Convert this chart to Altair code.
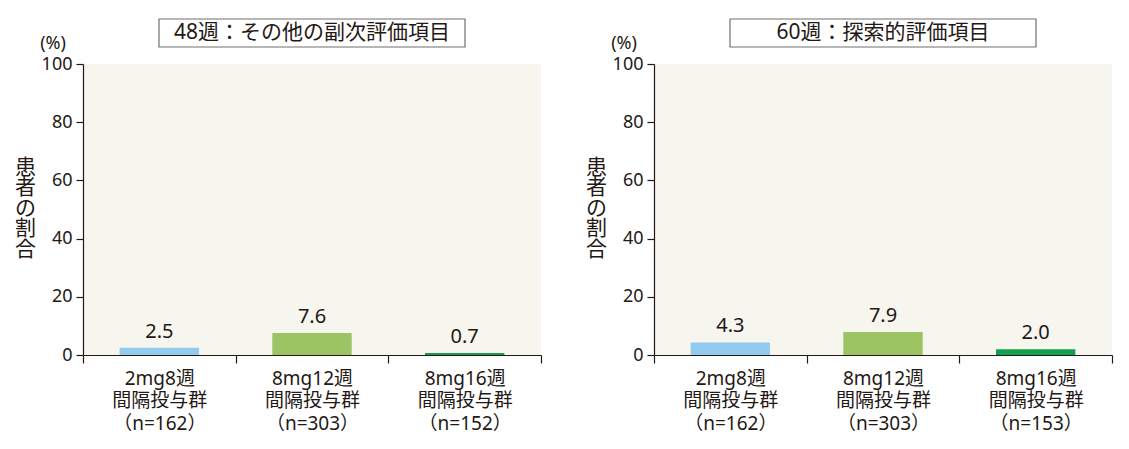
import altair as alt
import pandas as pd

# Data
arms = ["2mg8週", "8mg12週", "8mg16週"]
cats_48 = ["2mg8週|間隔投与群|（n=162）", "8mg12週|間隔投与群|（n=303）", "8mg16週|間隔投与群|（n=152）"]
cats_60 = ["2mg8週|間隔投与群|（n=162）", "8mg12週|間隔投与群|（n=303）", "8mg16週|間隔投与群|（n=153）"]
values_48 = [2.5, 7.6, 0.7]
values_60 = [4.3, 7.9, 2.0]
titles = ["48週：その他の副次評価項目", "60週：探索的評価項目"]
bar_colors = ["#92cbee", "#9dc462", "#12a04e"]
y_ticks = [0, 20, 40, 60, 80, 100]

FONT = "Noto Sans, Noto Sans CJK JP"
CJK = "Noto Sans CJK JP"
INK = "#231815"
W, H = 458, 291


def panel(title, cats, vals):
    df = pd.DataFrame({"cat": cats, "arm": arms, "value": vals})
    x = alt.X(
        "cat:N", sort=cats,
        scale=alt.Scale(paddingInner=0, paddingOuter=0),
        axis=alt.Axis(
            title=None, labelAngle=0, labelExpr="split(datum.label, '|')",
            tickBand="extent", tickSize=8, labelPadding=6,
            labelFontSize=19, labelLineHeight=22.5, labelBaseline="top",
        ),
    )
    y = alt.Y(
        "value:Q",
        scale=alt.Scale(domain=[0, 100]),
        axis=alt.Axis(
            values=y_ticks, grid=False, tickSize=7, labelPadding=4, labelFontSize=18,
            title=["患", "者", "の", "割", "合"], titleAngle=0, titleFont=CJK,
            titleX=-58, titleY=103, titleAlign="center", titleBaseline="middle",
            titleFontSize=21, titleFontWeight="normal", titleLineHeight=20.5,
        ),
    )
    bars = alt.Chart(df).mark_bar(width=alt.RelativeBandSize(0.52)).encode(
        x=x, y=y,
        color=alt.Color("arm:N", scale=alt.Scale(domain=arms, range=bar_colors), legend=None),
    )
    text = alt.Chart(df).mark_text(dy=-10, baseline="alphabetic", fontSize=20, color=INK, font=FONT).encode(
        x=x, y=y, text=alt.Text("value:Q", format=".1f")
    )
    tdf = pd.DataFrame({"t": [title]})
    box = alt.Chart(tdf).mark_rect(fill="white", stroke="#707070", strokeWidth=1.2).encode(
        x=alt.value(W / 2 - 153), x2=alt.value(W / 2 + 153), y=alt.value(-45), y2=alt.value(-17)
    )
    ttl = alt.Chart(tdf).mark_text(fontSize=21, color=INK, font=FONT, baseline="middle").encode(
        x=alt.value(W / 2), y=alt.value(-31), text="t:N"
    )
    pct = alt.Chart(tdf).mark_text(fontSize=18, color=INK, font=FONT, baseline="middle").encode(
        x=alt.value(-30), y=alt.value(-20), text=alt.value("(%)")
    )
    return alt.layer(box, ttl, pct, bars, text).properties(width=W, height=H)


chart = alt.hconcat(
    panel(titles[0], cats_48, values_48),
    panel(titles[1], cats_60, values_60),
    spacing=43,
).properties(
    padding={"left": 6, "top": 10, "right": 5, "bottom": 5},
    background="white",
).configure_view(
    fill="#f6f5ee", stroke=None
).configure_axis(
    domainColor=INK, tickColor=INK, labelColor=INK, titleColor=INK,
    labelFont=FONT, domainWidth=1.2, tickWidth=1.2,
)

chart.save("out.html", embed_options={"renderer": "svg", "actions": False})
